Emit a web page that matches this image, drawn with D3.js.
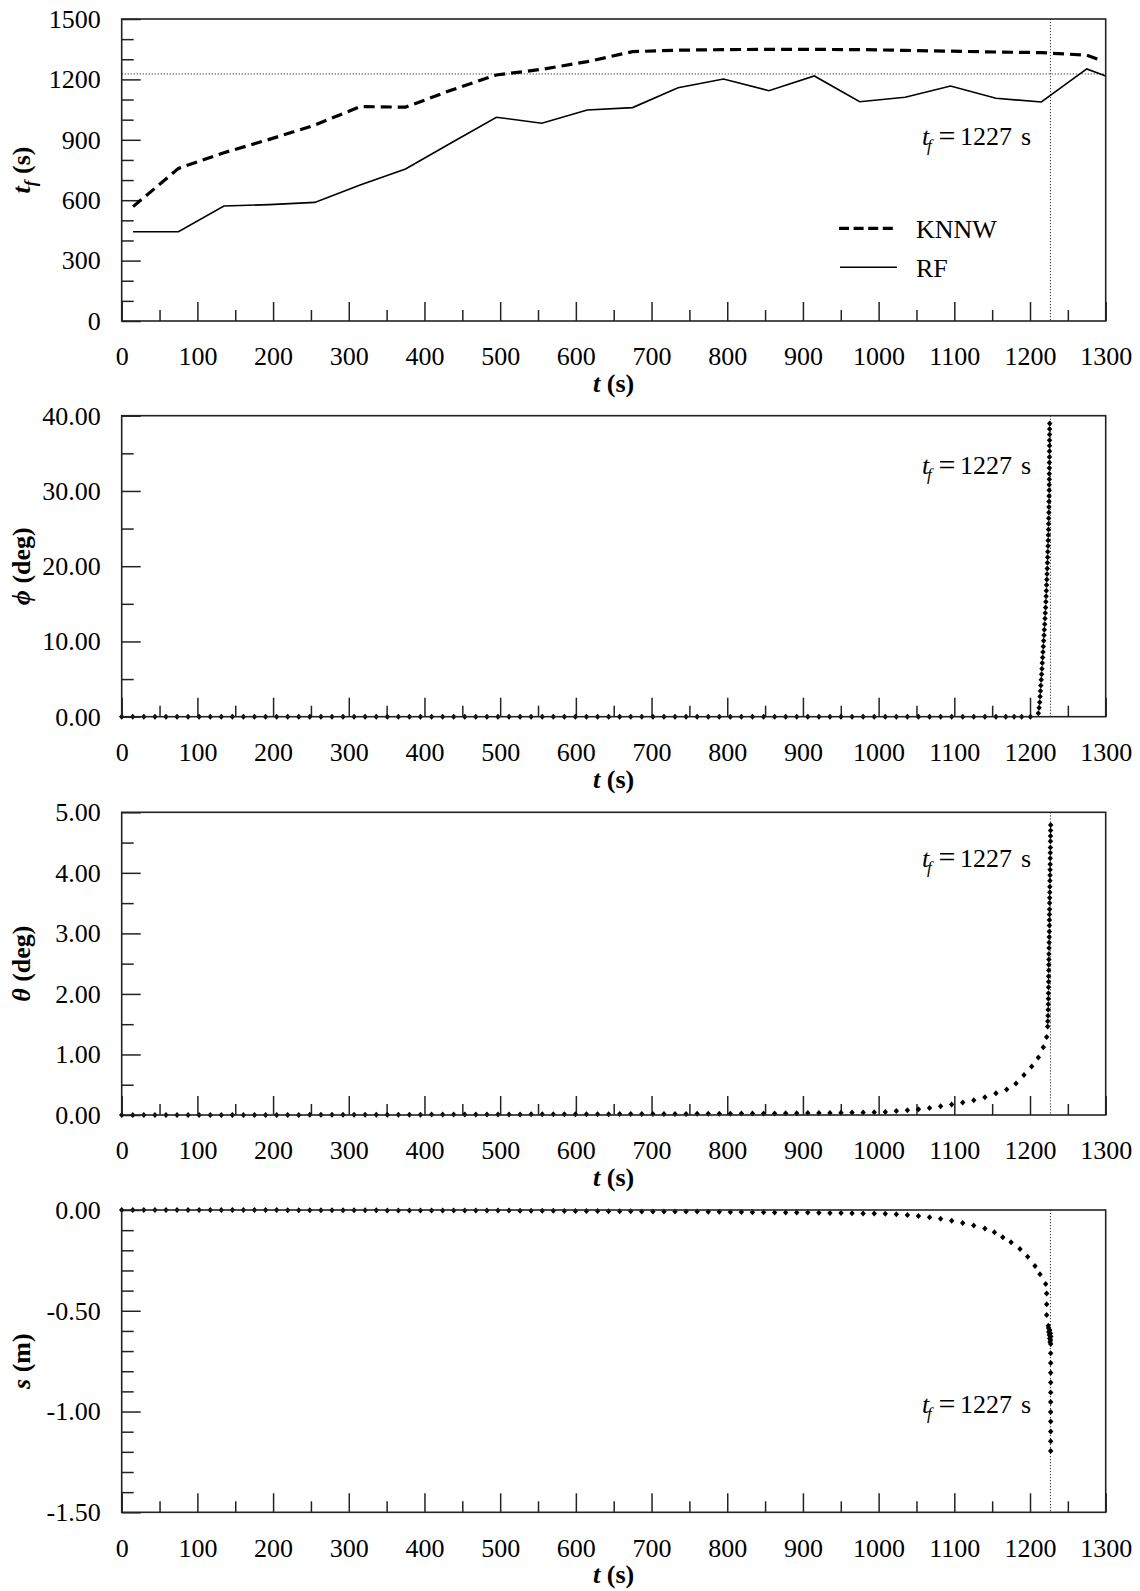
<!DOCTYPE html>
<html><head><meta charset="utf-8">
<script src="https://cdn.jsdelivr.net/npm/d3@7/dist/d3.min.js"></script>
<style>body{margin:0;background:#fff}</style>
</head><body><svg id="c" width="1140" height="1591"></svg>
<script>
// ---------------- DATA ----------------
const xMajorTicks = [0,100,200,300,400,500,600,700,800,900,1000,1100,1200,1300];
const xMinorTicks = [50,150,250,350,450,550,650,750,850,950,1050,1150,1250];
const failureTime = 1227;

// Panel 1: t_f predictions
const rfTime   = [15,75,135,195,255,315,375,435,495,555,615,675,735,795,855,915,975,1035,1095,1155,1215,1275,1300];
const rfValue  = [443,443,571,578,589,675,755,884,1012,982,1048,1060,1159,1202,1144,1217,1089,1111,1167,1106,1088,1252,1217];
const knnwTime = [15,75,135,195,255,315,375,435,495,555,615,675,735,795,855,915,975,1035,1095,1155,1215,1275,1290];
const knnwValue= [568,758,836,902,973,1065,1062,1146,1222,1250,1288,1338,1345,1348,1349,1349,1348,1344,1340,1336,1333,1320,1300];
const tfMajorTicks = [0,300,600,900,1200,1500];
const tfMinorTicks = [100,200,400,500,700,800,1000,1100,1300,1400];

// shared time grid of the monitoring record (s)
const gridTime = [0,14.6,29.2,43.9,58.5,73.1,87.7,102.3,117.0,131.6,146.2,160.8,175.4,190.1,204.7,219.3,233.9,248.5,263.2,277.8,
 292.4,307.0,321.6,336.3,350.9,365.5,380.1,394.7,409.4,424.0,438.6,453.2,467.8,482.5,497.1,511.7,526.3,540.9,555.6,570.2,
 584.8,599.4,614.0,628.7,643.3,657.9,672.5,687.1,701.8,716.4,731.0,745.6,760.2,774.9,789.5,804.1,818.7,833.3,848.0,862.6,
 877.2,891.8,906.4,921.1,935.7,950.3,964.9,979.5,994.2,1008.8,1023.4,1038.0,1052.6,1067.3,1081.9,1096.5,1111.1,1125.7,1140.4];

// Panel 2: phi (deg)
const phiGrid = [0,0,0,0,0,0,0,0,0,0, 0,0,0,0,0,0,0,0,0,0, 0,0,0,0,0,0,0,0,0,0, 0,0,0,0,0,0,0,0,0,0,
 0,0,0,0,0,0,0,0,0,0, 0,0,0,0,0,0,0,0,0,0, 0,0,0,0,0,0,0,0,0,0, 0,0,0,0,0,0,0,0,0];
const phiTailTime = [1155,1168,1179,1189,1200.5,1211.0,1212.0,1212.8,1213.3,1213.8,1214.3,1214.8,1215.3,1215.8,1216.2,1216.7,1217.1,1217.6,
 1218.0,1218.5,1218.9,1219.4,1219.8,1220.2,1220.6,1221.0,1221.3,1221.6,1221.9,1222.2,1222.5,1222.8,1223.0,1223.3,1223.5,1223.8,
 1224.0,1224.2,1224.4,1224.6,1224.7,1224.9,1225.0,1225.1,1225.2,1225.3,1225.4,1225.5,1225.5,1225.6,1225.6,1225.7,1225.7,1225.8,
 1225.8,1225.9,1225.9,1226.0];
const phiTailValue = [0,0,0,0,0,0.45,1.19,1.93,2.67,3.41,4.15,4.90,5.64,6.38,7.12,7.86,8.60,9.34,10.08,10.82,11.56,12.30,13.04,
 13.78,14.52,15.27,16.01,16.75,17.49,18.23,18.97,19.71,20.45,21.19,21.93,22.67,23.41,24.15,24.89,25.64,26.38,27.12,27.86,28.60,
 29.34,30.08,30.82,31.56,32.30,33.04,33.78,34.52,35.27,36.01,36.75,37.49,38.23,38.97];
const phiMajorTicks = [0,10,20,30,40];
const phiMinorTicks = [5,15,25,35];

// Panel 3: theta (deg)
const thetaGrid = [0,0,0,0.001,0.001,0.001,0.001,0.001,0.001,0.001, 0.001,0.001,0.002,0.002,0.002,0.002,0.002,0.003,0.003,0.003,
 0.004,0.004,0.004,0.005,0.005,0.005,0.006,0.006,0.007,0.007, 0.008,0.008,0.008,0.009,0.009,0.010,0.010,0.011,0.011,0.012,
 0.012,0.013,0.013,0.014,0.014,0.015,0.015,0.016,0.016,0.017, 0.017,0.018,0.019,0.020,0.021,0.022,0.023,0.024,0.025,0.026,
 0.027,0.029,0.031,0.033,0.035,0.037,0.040,0.043,0.046,0.050, 0.068,0.080,0.093,0.115,0.145,0.175,0.205,0.245,0.295];
const thetaTailTime = [1155.0,1169.2,1181.5,1192.0,1202.2,1211.0,1217.6,1222.0,1223.3,
 1223.5,1223.8,1224.0,1224.2,1224.3,1224.4,1224.5,1224.6,1224.6,1224.7,1224.8,1224.9,1225.0,1225.2,1225.3,1225.4,1225.5,1225.6,
 1225.6,1225.7,1225.8,1225.9,1226.0,1226.1,1226.2,1226.3,1226.4,1226.5,1226.6,1226.7,1226.8,1226.9,1227.0,1227.1,1227.2,1227.3];
const thetaTailValue = [0.36,0.42,0.52,0.66,0.80,0.95,1.12,1.29,1.46,
 1.55,1.64,1.74,1.83,1.92,2.01,2.11,2.20,2.29,2.39,2.48,2.57,2.66,2.76,2.85,2.94,3.03,3.13,3.22,3.31,3.40,3.50,3.59,3.68,3.77,
 3.87,3.96,4.05,4.14,4.24,4.33,4.42,4.52,4.61,4.70,4.79];
const thetaMajorTicks = [0,1,2,3,4,5];
const thetaMinorTicks = [0.5,1.5,2.5,3.5,4.5];

// Panel 4: s (m)
const sGrid = [0,0,0,0,0,0,0,0,0,0, 0,0,0,0,0,-0.001,-0.001,-0.001,-0.001,-0.001,
 -0.001,-0.001,-0.001,-0.001,-0.002,-0.002,-0.002,-0.002,-0.002,-0.002, -0.002,-0.003,-0.003,-0.003,-0.003,-0.003,-0.004,-0.004,-0.004,-0.004,
 -0.005,-0.005,-0.005,-0.005,-0.006,-0.006,-0.006,-0.007,-0.007,-0.007, -0.008,-0.008,-0.008,-0.009,-0.009,-0.010,-0.010,-0.011,-0.011,-0.012,
 -0.012,-0.013,-0.013,-0.014,-0.015,-0.015,-0.016,-0.017,-0.017, -0.018,-0.021,-0.025,-0.030,-0.036,-0.044,-0.053,-0.064,-0.077,-0.092];
const sTailTime = [1153,1164,1175,1186.8,1196.9,1206.6,1213.2,1220.7,1222.0,1222.0,1222.0,1224.2,1224.5,1226.0,1224.8,1227.0,1225.5,
 1227.5,1226.0,1227.2,1226.5,1227.3,1227.3,1227.3,1227.3,1227.3,1227.3,1227.3,1227.3,1227.3,1227.3,1227.3,1227.3];
const sTailValue = [-0.110,-0.135,-0.160,-0.194,-0.232,-0.278,-0.319,-0.367,-0.414,-0.468,-0.521,-0.574,-0.585,-0.595,-0.605,-0.612,
 -0.620,-0.628,-0.637,-0.645,-0.655,-0.665,-0.711,-0.759,-0.808,-0.856,-0.905,-0.953,-1.002,-1.050,-1.099,-1.147,-1.196];
const sMajorTicks = [-1.5,-1.0,-0.5,0];
const sMinorTicks = [-1.4,-1.3,-1.2,-1.1,-0.9,-0.8,-0.7,-0.6,-0.4,-0.3,-0.2,-0.1];

// ---------------- DRAW ----------------
const svg = d3.select("#c");
svg.append("rect").attr("width",1140).attr("height",1591).attr("fill","#fff");
const FONT = "'Liberation Serif','Times New Roman',serif";
const FS = 26;
const INK = "#222";
const xLeft = 121.7, xRight = 1105.7;
const x = d3.scaleLinear().domain([0,1300]).range([xLeft,xRight]);

function zip(a,b){ return a.map((v,i)=>[v,b[i]]); }

const panels = [
  {top:19, bottom:321, domain:[0,1500], major:tfMajorTicks, minor:tfMinorTicks, fmt:d3.format("d"), label:"tf", annot:874},
  {top:415.7, bottom:716.7, domain:[0,40], major:phiMajorTicks, minor:phiMinorTicks, fmt:d3.format(".2f"), label:"phi", annot:32.25,
   pts: zip(gridTime,phiGrid).concat(zip(phiTailTime,phiTailValue))},
  {top:812.3, bottom:1115, domain:[0,5], major:thetaMajorTicks, minor:thetaMinorTicks, fmt:d3.format(".2f"), label:"theta", annot:4.10,
   pts: zip(gridTime,thetaGrid).concat(zip(thetaTailTime,thetaTailValue))},
  {top:1210, bottom:1512.3, domain:[-1.5,0], major:sMajorTicks, minor:sMinorTicks, fmt:v=>d3.format(".2f")(v).replace("\u2212","-"), label:"s", annot:-1.009,
   pts: zip(gridTime,sGrid).concat(zip(sTailTime,sTailValue))}
];

const diamond = {draw(ctx,size){ const w=2.7,h=3.0; ctx.moveTo(0,-h); ctx.lineTo(w,0); ctx.lineTo(0,h); ctx.lineTo(-w,0); ctx.closePath(); }};

function styleAxis(g){
  g.select(".domain").remove();
  g.selectAll(".tick line").attr("stroke",INK).attr("stroke-width",1.5);
  g.selectAll("text").attr("font-family",FONT).attr("font-size",FS).attr("fill","#000");
}

panels.forEach((p,pi)=>{
  const y = d3.scaleLinear().domain(p.domain).range([p.bottom,p.top]);
  const g = svg.append("g");

  // axes
  g.append("g").attr("transform",`translate(0,${p.bottom})`)
    .call(d3.axisBottom(x).tickValues(xMajorTicks).tickSize(-19).tickPadding(26).tickFormat(d3.format("d"))).call(styleAxis);
  g.append("g").attr("transform",`translate(0,${p.bottom})`)
    .call(d3.axisBottom(x).tickValues(xMinorTicks).tickSize(-11).tickFormat("")).call(styleAxis);
  g.append("g").attr("transform",`translate(${xLeft},0)`)
    .call(d3.axisLeft(y).tickValues(p.major).tickSize(-19).tickPadding(21).tickFormat(p.fmt)).call(styleAxis);
  g.append("g").attr("transform",`translate(${xLeft},0)`)
    .call(d3.axisLeft(y).tickValues(p.minor).tickSize(-12).tickFormat("")).call(styleAxis);

  // vertical failure time line
  g.append("line").attr("x1",x(failureTime)).attr("x2",x(failureTime)).attr("y1",p.top).attr("y2",p.bottom)
    .attr("stroke","#333").attr("stroke-width",1).attr("stroke-dasharray","1.2,1.8");

  if(pi===0){
    g.append("line").attr("x1",x(0)).attr("x2",x(1300)).attr("y1",y(failureTime)).attr("y2",y(failureTime))
      .attr("stroke","#333").attr("stroke-width",1).attr("stroke-dasharray","1.2,1.8");
    const line = d3.line().x(d=>x(d[0])).y(d=>y(d[1]));
    g.append("path").attr("d",line(zip(knnwTime,knnwValue))).attr("fill","none").attr("stroke","#000")
      .attr("stroke-width",3.2).attr("stroke-dasharray","11,6");
    g.append("path").attr("d",line(zip(rfTime,rfValue))).attr("fill","none").attr("stroke","#000").attr("stroke-width",1.6);
    // legend
    g.append("line").attr("x1",839).attr("x2",893).attr("y1",228.3).attr("y2",228.3).attr("stroke","#000")
      .attr("stroke-width",3.2).attr("stroke-dasharray","10,4.6");
    g.append("line").attr("x1",840).attr("x2",897).attr("y1",267.3).attr("y2",267.3).attr("stroke","#000").attr("stroke-width",1.6);
    g.append("text").attr("x",916).attr("y",237.7).attr("font-family",FONT).attr("font-size",FS).text("KNNW");
    g.append("text").attr("x",916).attr("y",276.7).attr("font-family",FONT).attr("font-size",FS).text("RF");
  } else {
    g.append("g").selectAll("path").data(p.pts).join("path")
      .attr("transform",d=>`translate(${x(d[0])},${y(d[1])})`)
      .attr("d",d3.symbol(diamond)()).attr("fill","#000");
  }

  // frame
  g.append("rect").attr("x",xLeft).attr("y",p.top).attr("width",xRight-xLeft).attr("height",p.bottom-p.top)
    .attr("fill","none").attr("stroke",INK).attr("stroke-width",1.6);

  // annotation t_f = 1227 s
  const ay = y(p.annot);
  const ag = g.append("g").attr("font-family",FONT).attr("font-size",FS);
  ag.append("text").attr("x",922).attr("y",ay).attr("font-style","italic").text("t");
  ag.append("text").attr("x",927).attr("y",ay+6).attr("font-style","italic").attr("font-size",17).text("f");
  ag.append("text").attr("x",938.5).attr("y",ay+0.5).attr("font-size",30).text("=");
  ag.append("text").attr("x",960).attr("y",ay).text(failureTime);
  ag.append("text").attr("x",1021).attr("y",ay).text("s");

  // x title
  const xt = g.append("text").attr("x",(xLeft+xRight)/2).attr("y",p.bottom+71).attr("text-anchor","middle")
    .attr("font-family",FONT).attr("font-size",FS).attr("font-weight","bold");
  xt.append("tspan").attr("font-style","italic").text("t");
  xt.append("tspan").text(" (s)");

  // y title
  const yt = g.append("text").attr("transform",`translate(30,${(p.top+p.bottom)/2}) rotate(-90)`).attr("text-anchor","middle")
    .attr("font-family",FONT).attr("font-size",FS).attr("font-weight","bold");
  if(p.label==="tf"){
    yt.append("tspan").attr("font-style","italic").text("t");
    yt.append("tspan").attr("font-style","italic").attr("font-size",17).attr("dy",6).text("f");
    yt.append("tspan").attr("dy",-6).text(" (s)");
  } else if(p.label==="phi"){
    yt.append("tspan").attr("font-style","italic").text("\u03D5");
    yt.append("tspan").text(" (deg)");
  } else if(p.label==="theta"){
    yt.append("tspan").attr("font-style","italic").text("\u03B8");
    yt.append("tspan").text(" (deg)");
  } else {
    yt.append("tspan").attr("font-style","italic").text("s");
    yt.append("tspan").text(" (m)");
  }
});
</script></body></html>
